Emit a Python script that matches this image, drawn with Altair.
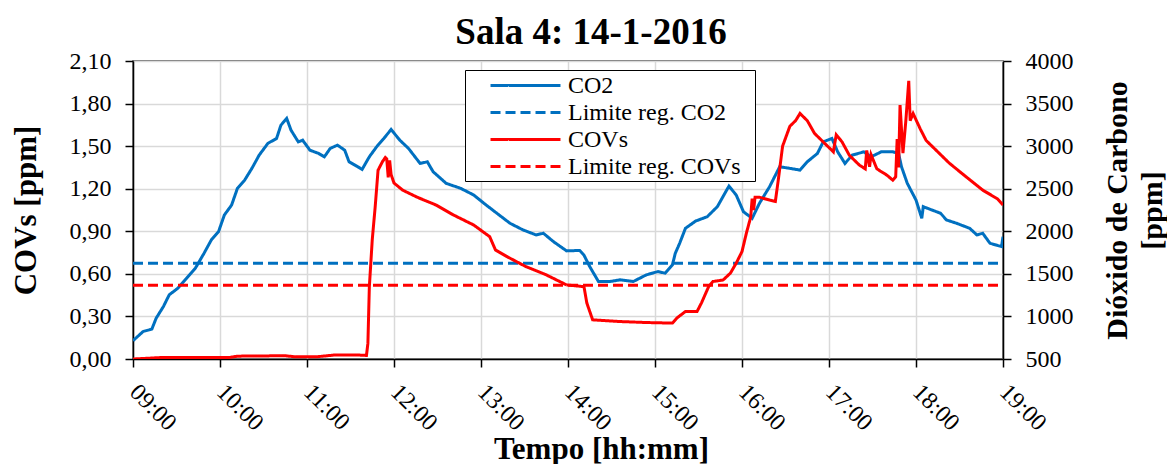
import altair as alt
import pandas as pd

# ---- data ----
co2_time = ["09:00","09:07","09:13","09:16","09:21","09:25","09:31","09:37","09:43","09:49",
            "09:54","09:59","10:03","10:08","10:12","10:17","10:22","10:27","10:33","10:39",
            "10:42","10:46","10:49","10:54","10:57","11:02","11:08","11:12","11:16","11:21",
            "11:26","11:29","11:35","11:38","11:43","11:48","11:53","11:58","12:04","12:10",
            "12:18","12:23","12:27","12:36","12:46","12:55","13:02","13:11","13:20","13:29",
            "13:38","13:43","13:50","13:59","14:08","14:11","14:15","14:21","14:29","14:36",
            "14:45","14:54","15:02","15:07","15:12","15:14","15:17","15:21","15:28","15:36",
            "15:43","15:51","15:56","16:01","16:07","16:12","16:19","16:26","16:33","16:40",
            "16:45","16:52","16:56","17:02","17:06","17:11","17:16","17:24","17:29","17:36",
            "17:44","17:48","17:50","17:54","18:00","18:04","18:05","18:11","18:17","18:21",
            "18:28","18:37","18:42","18:46","18:51","18:59","19:00"]
co2_ppm = [715, 823, 851, 980, 1117, 1254, 1332, 1449, 1566, 1742,
           1898, 1996, 2191, 2308, 2504, 2601, 2739, 2894, 3032, 3090,
           3246, 3325, 3187, 3050, 3070, 2953, 2914, 2875, 2973, 3012,
           2953, 2816, 2758, 2727, 2875, 2992, 3090, 3196, 3070, 2973,
           2797, 2816, 2699, 2563, 2504, 2426, 2329, 2211, 2094, 2016,
           1957, 1977, 1878, 1770, 1775, 1720, 1585, 1410, 1410, 1430,
           1410, 1488, 1527, 1508, 1605, 1742, 1859, 2035, 2120, 2171,
           2289, 2531, 2426, 2230, 2152, 2328, 2523, 2758, 2739, 2719,
           2816, 2914, 3050, 3090, 2933, 2797, 2894, 2933, 2875, 2933,
           2933, 2914, 2758, 2563, 2367, 2152, 2289, 2250, 2211, 2133,
           2094, 2035, 1957, 1977, 1859, 1820, 1937]

cov_time = ["09:00","09:19","09:43","10:06","10:12","10:45","10:52","11:06","11:19","11:35",
            "11:41","11:42","11:43","11:45","11:47","11:49","11:52","11:54","11:55","11:56",
            "11:57","11:58","12:00","12:06","12:16","12:29","12:41","12:55","13:06","13:10",
            "13:18","13:31","13:45","13:59","14:11","14:13","14:17","14:36","14:54","15:12",
            "15:15","15:21","15:29","15:32","15:37","15:40","15:47","15:52","15:56","16:00",
            "16:03","16:06","16:07","16:08","16:09","16:12","16:19","16:23","16:25","16:28",
            "16:33","16:37","16:40","16:45","16:50","16:55","17:03","17:05","17:09","17:14",
            "17:21","17:25","17:26","17:28","17:29","17:33","17:40","17:44","17:46","17:47",
            "17:48","17:49","17:51","17:53","17:55","17:56","17:58","18:03","18:07","18:14",
            "18:23","18:35","18:46","18:56","19:00"]
cov_ppm = [0.00, 0.01, 0.01, 0.01, 0.02, 0.023, 0.015, 0.015, 0.028, 0.028,
           0.025, 0.11, 0.51, 0.84, 1.07, 1.33, 1.39, 1.42, 1.41, 1.28,
           1.40, 1.30, 1.24, 1.19, 1.14, 1.085, 1.015, 0.944, 0.862, 0.768,
           0.721, 0.651, 0.593, 0.522, 0.51, 0.394, 0.276, 0.264, 0.257, 0.253,
           0.288, 0.335, 0.335, 0.394, 0.51, 0.546, 0.557, 0.605, 0.675, 0.757,
           0.886, 1.00, 1.13, 1.05, 1.14, 1.14, 1.12, 1.11, 1.26, 1.50,
           1.64, 1.68, 1.73, 1.68, 1.59, 1.54, 1.46, 1.58, 1.53, 1.436,
           1.366, 1.34, 1.47, 1.354, 1.44, 1.34, 1.295, 1.26, 1.284, 1.55,
           1.35, 1.79, 1.45, 1.68, 1.96, 1.68, 1.73, 1.62, 1.54, 1.47,
           1.38, 1.28, 1.19, 1.13, 1.085]

limit_co2 = 1625
limit_cov = 0.52
limit_span = ["09:00", "19:00"]

series = ["CO2", "Limite reg. CO2", "COVs", "Limite reg. COVs"]
series_colors = ["#0070C0", "#0070C0", "#FF0000", "#FF0000"]
series_dash = [[1, 0], [10, 5], [1, 0], [10, 5]]

hour_ticks = list(range(9, 20))
cov_ticks = [0, 0.3, 0.6, 0.9, 1.2, 1.5, 1.8, 2.1]
co2_ticks = [500, 1000, 1500, 2000, 2500, 3000, 3500, 4000]


def to_hours(t):
    h, m = t.split(":")
    return int(h) + int(m) / 60.0


def frame(times, values, name):
    return pd.DataFrame({
        "h": [to_hours(t) for t in times],
        "v": values,
        "series": name,
        "i": list(range(len(times))),
    })


df_co2 = frame(co2_time, co2_ppm, "CO2")
df_co2_lim = frame(limit_span, [limit_co2] * 2, "Limite reg. CO2")
df_cov = frame(cov_time, cov_ppm, "COVs")
df_cov_lim = frame(limit_span, [limit_cov] * 2, "Limite reg. COVs")

FONT = "Liberation Serif"

legend = alt.Legend(
    title=" ", titleOrient="right", titlePadding=12, titleFontSize=2,
    orient="none", legendX=332, legendY=9,
    symbolType="M-3,0H3", symbolSize=544, symbolStrokeWidth=3,
    symbolOffset=45, labelOffset=29, labelLimit=400,
    labelFont=FONT, labelFontSize=24, labelColor="black",
    rowPadding=1, padding=2,
    strokeColor="black", fillColor="white",
)

x_enc = alt.X(
    "h:Q",
    scale=alt.Scale(domain=[9, 19], nice=False),
    axis=alt.Axis(
        values=hour_ticks,
        labelExpr="(datum.value < 10 ? '0' : '') + datum.value + ':00'",
        labelAngle=45, labelAlign="left", labelBaseline="middle",
        labelPadding=21,
        title="Tempo [hh:mm]", titleX=468, titleY=99, titleBaseline="alphabetic",
        titleFontSize=31,
        grid=True,
    ),
)

color_enc = alt.Color("series:N", scale=alt.Scale(domain=series, range=series_colors), legend=legend)
dash_enc = alt.StrokeDash("series:N", scale=alt.Scale(domain=series, range=series_dash), legend=legend)

co2_scale = alt.Scale(domain=[500, 4000], nice=False, zero=False)
cov_scale = alt.Scale(domain=[0, 2.1], nice=False)
x_plain = alt.X("h:Q", scale=alt.Scale(domain=[9, 19], nice=False))

co2_line = alt.Chart(df_co2).mark_line(strokeWidth=3, clip=True).encode(
    x=x_enc,
    y=alt.Y("v:Q", scale=co2_scale, axis=alt.Axis(
        orient="right", values=co2_ticks, grid=False, format="d",
        title=["Dióxido de Carbono", "[ppm]"], titleAngle=270,
        titleX=123, titleY=149, titleBaseline="alphabetic", titleLineHeight=35,
        labelPadding=14,
    )),
    color=color_enc, strokeDash=dash_enc, order="i:Q",
)

co2_lim = alt.Chart(df_co2_lim).mark_line(strokeWidth=3).encode(
    x=x_plain,
    y=alt.Y("v:Q", scale=co2_scale, axis=None),
    color=color_enc, strokeDash=dash_enc, order="i:Q",
)

cov_line = alt.Chart(df_cov).mark_line(strokeWidth=3, clip=True).encode(
    x=x_plain,
    y=alt.Y("v:Q", scale=cov_scale, axis=alt.Axis(
        orient="left", values=cov_ticks, grid=True,
        labelExpr="replace(format(datum.value, '.2f'), '.', ',')",
        title="COVs [ppm]", titleAngle=270, titleFontSize=31,
        titleX=-98, titleY=149, titleBaseline="alphabetic",
        labelPadding=14,
    )),
    color=color_enc, strokeDash=dash_enc, order="i:Q",
)

cov_lim = alt.Chart(df_cov_lim).mark_line(strokeWidth=3).encode(
    x=x_plain,
    y=alt.Y("v:Q", scale=cov_scale, axis=None),
    color=color_enc, strokeDash=dash_enc, order="i:Q",
)

chart = (
    alt.layer(co2_line, co2_lim, cov_line, cov_lim)
    .resolve_scale(y="independent")
    .properties(
        width=870, height=298,
        title=alt.TitleParams(
            "Sala 4: 14-1-2016", font=FONT, fontSize=37, fontWeight="bold",
            color="black", anchor="middle", frame="group", offset=-3,
            dx=23,
        ),
        autosize=alt.AutoSizeParams(type="none"),
        padding={"left": 125, "top": 53, "right": 164, "bottom": 105},
    )
    .configure_view(stroke="#404040", strokeWidth=1.5)
    .configure_axis(
        labelFont=FONT, labelFontSize=24, labelColor="black",
        titleFont=FONT, titleFontSize=30, titleFontWeight="bold", titleColor="black",
        domainColor="black", domainWidth=1.5,
        tickColor="black", tickWidth=1.5, tickSize=8,
        gridColor="#D9D9D9", gridWidth=1.5,
    )
)

chart.save("out.html", embed_options={"renderer": "svg", "actions": False})
